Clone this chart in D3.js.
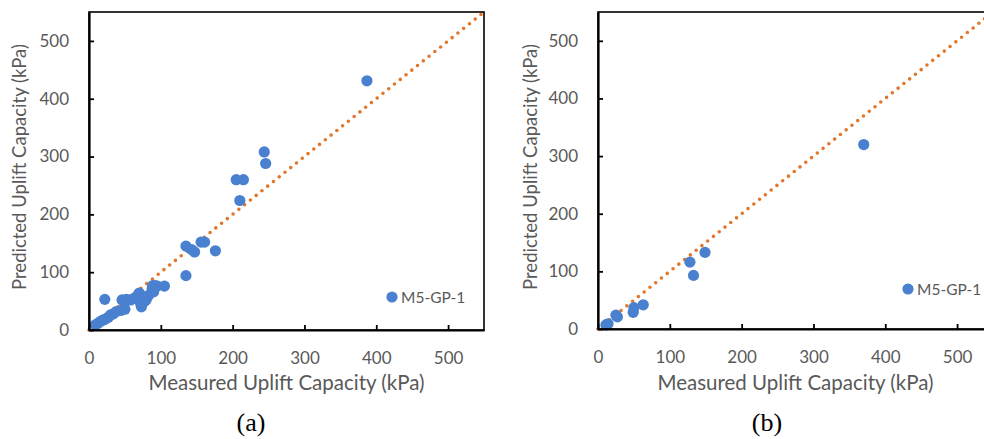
<!DOCTYPE html>
<html>
<head>
<meta charset="utf-8">
<script src="https://cdn.jsdelivr.net/npm/d3@7"></script>
<style>
  body { margin: 0; background: #fff; }
  svg { display: block; }
  text { font-family: Lato, "Open Sans", sans-serif; }
</style>
</head>
<body>
<div id="chart"></div>
<script>
'use strict';

// panel (a) measured / predicted uplift capacity (kPa)
var measuredA = [387, 244, 246, 205, 215, 210,
  135, 143, 147, 156, 161, 176, 135,
  105, 95, 92, 89, 90, 88, 83, 80, 78, 75, 73, 72, 70, 68, 63, 58, 52, 46, 22,
  50, 45, 38, 34, 30, 27, 23, 19, 15, 12, 9];
var predictedA = [431, 308, 288, 260, 260, 224,
  145, 139, 135, 152, 152, 137, 94,
  76, 76, 77, 77, 66, 72, 60, 53, 50, 57, 40, 45, 64, 60, 55, 52, 53, 52, 53,
  36, 34, 32, 28, 26, 22, 19, 17, 14, 11, 9];

// panel (b)
var measuredB = [370, 149, 128, 133, 63, 50, 49, 27, 25, 14, 11];
var predictedB = [320, 133, 116, 93, 42, 37, 29, 21, 24, 9, 7];

var ticks = [0, 100, 200, 300, 400, 500];
var domainMax = 550;
var seriesName = 'M5-GP-1';
var xTitle = 'Measured Uplift Capacity (kPa)';
var yTitle = 'Predicted Uplift Capacity (kPa)';

var W = 984, H = 439;
var pointColor = '#4a80d0', lineColor = '#e2762a', textColor = '#595959';

var svg = d3.select('#chart').append('svg')
  .attr('width', W)
  .attr('height', H);

function drawPanel(cfg) {
  var x, y, g, pts;

  x = d3.scaleLinear().domain([0, domainMax]).range([cfg.left, cfg.right]);
  y = d3.scaleLinear().domain([0, domainMax]).range([cfg.bottom, cfg.top]);

  g = svg.append('g');

  // 1:1 dotted line
  g.append('line')
    .attr('x1', x(0)).attr('y1', y(0))
    .attr('x2', x(domainMax)).attr('y2', y(domainMax))
    .attr('stroke', lineColor)
    .attr('stroke-width', 3.6)
    .attr('stroke-linecap', 'round')
    .attr('stroke-dasharray', '0 7.4');

  pts = cfg.mx.map(function (m, i) { return [m, cfg.py[i]]; });

  g.selectAll('circle.pt')
    .data(pts)
    .enter().append('circle')
    .attr('class', 'pt')
    .attr('cx', function (d) { return x(d[0]); })
    .attr('cy', function (d) { return y(d[1]); })
    .attr('r', 5.6)
    .attr('fill', pointColor);

  // frame
  g.append('rect')
    .attr('x', cfg.left).attr('y', cfg.top)
    .attr('width', cfg.right - cfg.left)
    .attr('height', cfg.bottom - cfg.top)
    .attr('fill', 'none')
    .attr('stroke', '#000')
    .attr('stroke-width', 1.6);

  // axes with inside ticks
  var xAxis = g.append('g')
    .attr('transform', 'translate(0,' + cfg.bottom + ')')
    .call(d3.axisBottom(x).tickValues(ticks).tickSizeInner(-5).tickSizeOuter(0).tickPadding(22));
  var yAxis = g.append('g')
    .attr('transform', 'translate(' + cfg.left + ',0)')
    .call(d3.axisLeft(y).tickValues(ticks).tickSizeInner(-5).tickSizeOuter(0).tickPadding(20));

  [xAxis, yAxis].forEach(function (a) {
    a.select('.domain').attr('stroke', '#000').attr('stroke-width', 2.2);
    a.selectAll('.tick line').attr('stroke', '#000').attr('stroke-width', 1.8);
    a.selectAll('.tick text')
      .attr('fill', textColor)
      .style('font-size', '17px')
      .style('font-family', 'Lato, sans-serif');
  });

  // axis titles
  g.append('text')
    .attr('x', (cfg.left + cfg.right) / 2)
    .attr('y', 390)
    .attr('text-anchor', 'middle')
    .attr('fill', textColor)
    .style('font-size', '20.5px')
    .text(xTitle);

  g.append('text')
    .attr('transform', 'translate(' + cfg.yTitleX + ',167) rotate(-90)')
    .attr('text-anchor', 'middle')
    .attr('fill', textColor)
    .style('font-size', '18.5px')
    .text(yTitle);

  // legend
  g.append('circle')
    .attr('cx', cfg.legX).attr('cy', cfg.legY)
    .attr('r', 5.6)
    .attr('fill', pointColor);
  g.append('text')
    .attr('x', cfg.legX + 9)
    .attr('y', cfg.legY + 6)
    .attr('fill', textColor)
    .style('font-size', '15.5px')
    .text(seriesName);

  // panel label
  g.append('text')
    .attr('x', cfg.labelX)
    .attr('y', 431)
    .attr('text-anchor', 'middle')
    .attr('fill', '#000')
    .style('font-family', '"Liberation Serif", "Times New Roman", serif')
    .style('font-size', '26px')
    .text(cfg.label);
}

drawPanel({ mx: measuredA, py: predictedA, left: 89, right: 484, top: 12, bottom: 330,
  yTitleX: 26, legX: 392, legY: 297, labelX: 251, label: '(a)' });
drawPanel({ mx: measuredB, py: predictedB, left: 598, right: 993, top: 12, bottom: 329,
  yTitleX: 537, legX: 908, legY: 289, labelX: 767, label: '(b)' });
</script>
</body>
</html>
